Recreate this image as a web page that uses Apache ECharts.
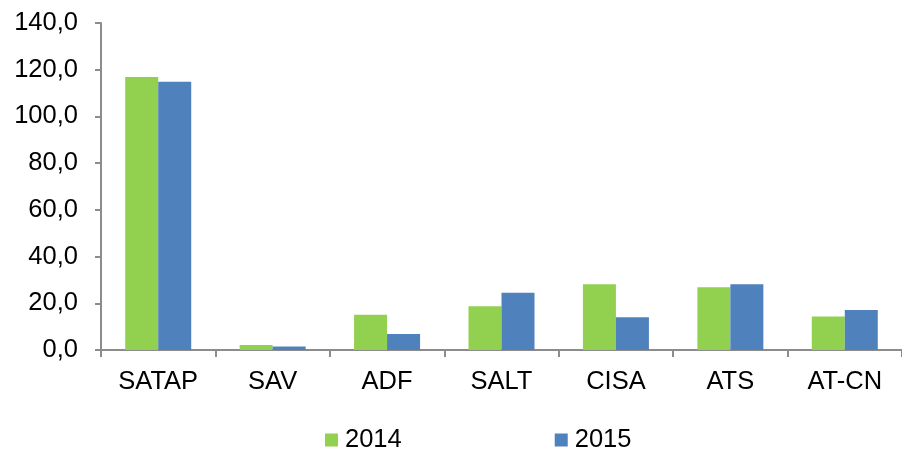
<!DOCTYPE html>
<html>
<head>
<meta charset="utf-8">
<script src="https://cdn.jsdelivr.net/npm/echarts@6/dist/echarts.min.js"></script>
<style>html,body{margin:0;padding:0;background:#fff}#c{width:902px;height:452px}</style>
</head>
<body>
<div id="c"></div>
<script>
const categories = ['SATAP', 'SAV', 'ADF', 'SALT', 'CISA', 'ATS', 'AT-CN'];
const values2014 = [116.9, 2.1, 15.1, 18.7, 28.1, 26.9, 14.3];
const values2015 = [114.8, 1.5, 6.8, 24.5, 14.0, 28.1, 17.1];
const seriesNames = ['2014', '2015'];

const chart = echarts.init(document.getElementById('c'));
const font = 'Liberation Sans, Arial, sans-serif';
const fs = 25.5;
chart.setOption({
  animation: false,
  grid: { left: 101, top: 23, width: 805, height: 327, containLabel: false },
  legend: {
    data: seriesNames,
    left: 325, top: 427, padding: 0,
    itemWidth: 13, itemHeight: 13, itemGap: 153,
    icon: 'rect',
    textStyle: { fontFamily: font, fontSize: fs, color: '#000', padding: [0, 0, 0, 2] }
  },
  xAxis: {
    type: 'category',
    data: categories,
    axisLine: { lineStyle: { color: '#8c8c8c', width: 2 } },
    axisTick: { show: true, length: 7, lineStyle: { color: '#8c8c8c', width: 2 } },
    axisLabel: { fontFamily: font, fontSize: fs, color: '#000', margin: 19 }
  },
  yAxis: {
    type: 'value',
    min: 0, max: 140, interval: 20,
    splitLine: { show: false },
    axisLine: { show: true, lineStyle: { color: '#8c8c8c', width: 2 } },
    axisTick: { show: true, length: 6, lineStyle: { color: '#8c8c8c', width: 2 } },
    axisLabel: {
      fontFamily: font, fontSize: fs, color: '#000', margin: 23,
      formatter: v => v.toFixed(1).replace('.', ',')
    }
  },
  series: [
    { name: seriesNames[0], type: 'bar', data: values2014, barWidth: 33, barGap: '0%',
      itemStyle: { color: '#92D050' } },
    { name: seriesNames[1], type: 'bar', data: values2015, barWidth: 33, barGap: '0%',
      itemStyle: { color: '#4F81BD' } }
  ]
});
</script>
</body>
</html>
